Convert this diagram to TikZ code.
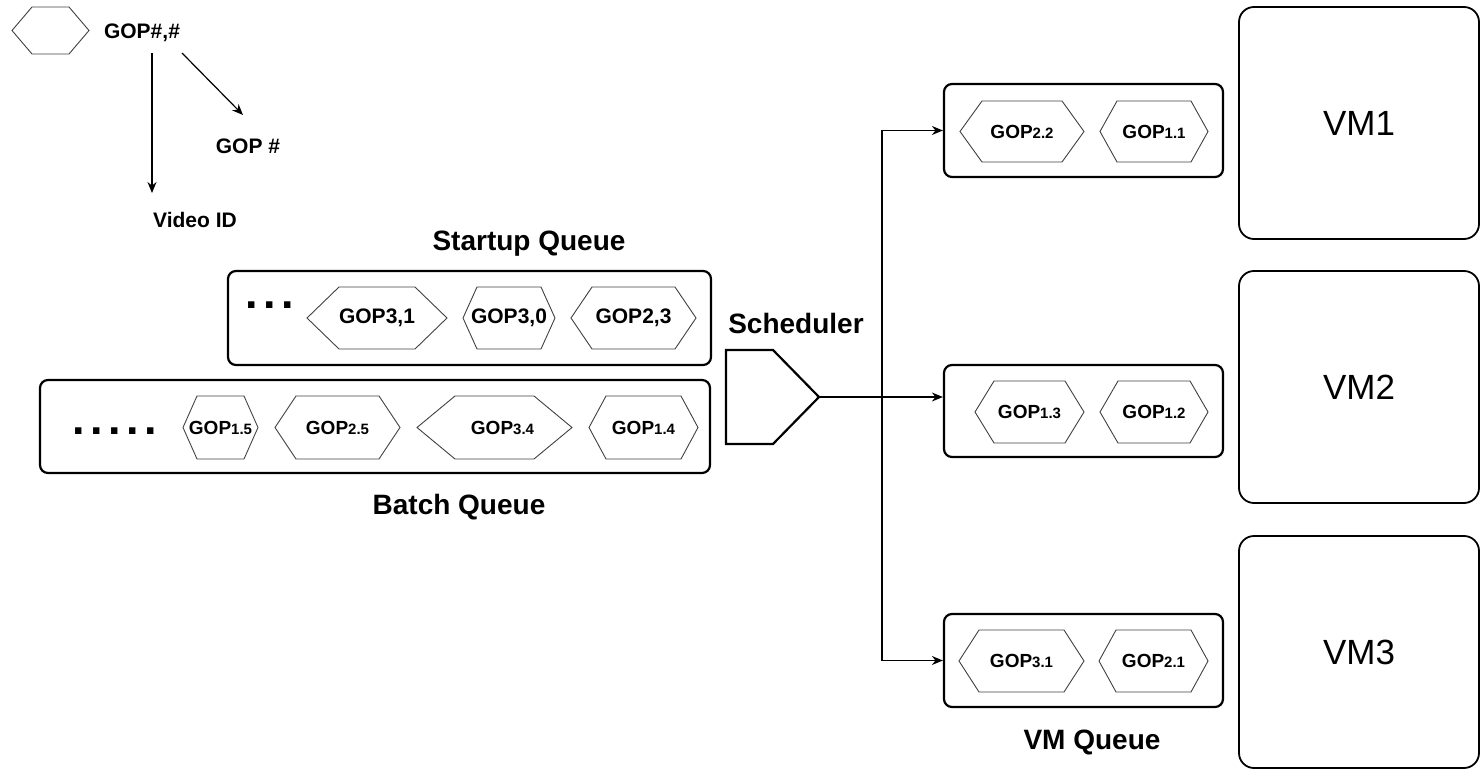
\documentclass[tikz,border=0pt]{standalone}
\usepackage{fontspec}
\setmainfont{Liberation Sans}
\usetikzlibrary{arrows.meta,calc}
\newcommand{\fsz}[1]{\fontsize{#1}{#1}\selectfont}
% hexagon: name, xl, xr, ytop, ybot, slant
\newcommand{\hexgop}[6]{%
  \draw[hexline] (#2,{(#4+#5)/2}) -- ({#2+#6},#4) -- ({#3-#6},#4) -- (#3,{(#4+#5)/2}) -- ({#3-#6},#5) -- ({#2+#6},#5) -- cycle;
  \coordinate (#1) at ({(#2+#3)/2},{(#4+#5)/2});}
\newcommand{\gp}[1]{GOP{\fsz{15}#1}}
\begin{document}
\begin{tikzpicture}[x=1pt,y=-1pt,
  qbox/.style={draw, line width=2.2pt, rounded corners=8pt, inner sep=0pt},
  vmbox/.style={draw, line width=1.8pt, rounded corners=15pt, inner sep=0pt, font=\fsz{35}},
  hexline/.style={draw=black!75, line width=0.9pt},
  gop/.style={font=\bfseries\fsz{21}, inner sep=0pt},
  gops/.style={font=\bfseries\fsz{19}, inner sep=0pt},
  lbl/.style={font=\bfseries\fsz{28}, inner sep=0pt},
  leg/.style={font=\bfseries\fsz{21}, inner sep=0pt},
  dots/.style={font=\bfseries\fsz{45}, inner sep=0pt},
  arr/.style={-{Stealth[length=11pt,width=9pt]}, line width=1.2pt},
  wire/.style={line width=1.2pt}]
\useasboundingbox (0,0) rectangle (1481,770);

% ---------- legend ----------
\hexgop{leghex}{12}{89}{7}{54}{20}
\node[leg] (legtxt) at (142,33) {GOP\#,\#};
\node[leg] (gopnum) at (248,146) {GOP \#};
\node[leg] (vid) at (195,220) {Video ID};
\coordinate (v1s) at (152,53);
\coordinate (v1e) at (152,193);
\coordinate (v2s) at (182,53);
\coordinate (v2e) at (243,115);
\draw[arr] (v1s) -- (v1e);
\draw[arr] (v2s) -- (v2e);

% ---------- startup queue ----------
\node[lbl] (sqlbl) at (529,244) {Startup Queue};
\node[qbox, minimum width=483pt, minimum height=94pt] (sq) at (469.5,318) {};
\node[dots] (sqdots) at (270,305) {.\hspace{5.5pt}.\hspace{5.5pt}.};
\hexgop{h31}{307}{447}{287}{349}{32}
\node[gop] (t31) at (h31) {GOP3,1};
\hexgop{h30}{463}{555}{287}{349}{14}
\node[gop] (t30) at (h30) {GOP3,0};
\hexgop{h23}{571}{696}{287}{349}{21}
\node[gop] (t23) at (h23) {GOP2,3};

% ---------- batch queue ----------
\node[qbox, minimum width=670pt, minimum height=93pt] (bq) at (375,426.5) {};
\node[dots] (bqdots) at (115,431) {.\hspace{5.5pt}.\hspace{5.5pt}.\hspace{5.5pt}.\hspace{5.5pt}.};
\hexgop{h15}{183}{258}{396}{459}{14}
\node[gops] (t15) at (h15) {\gp{1.5}};
\hexgop{h25}{275}{400}{396}{459}{21}
\node[gops] (t25) at (h25) {\gp{2.5}};
\hexgop{h34}{417}{572}{396}{459}{38}
\node[gops] (t34) at ([xshift=8pt]h34) {\gp{3.4}};
\hexgop{h14}{589}{698}{396}{459}{17}
\node[gops] (t14) at (h14) {\gp{1.4}};
\node[lbl] (bqlbl) at (459,507) {Batch Queue};

% ---------- scheduler ----------
\node[lbl] (schlbl) at (796,323) {Scheduler};
\draw[line width=2.2pt, line join=miter] (726,350) -- (773,350) -- (819,397) -- (773,444) -- (726,444) -- cycle;
\coordinate (schtip) at (819,397);
\coordinate (j) at (882,397);

% ---------- VM queues ----------
\node[qbox, minimum width=279pt, minimum height=93pt] (vq1) at (1083.5,130.5) {};
\node[qbox, minimum width=279pt, minimum height=92pt] (vq2) at (1083.5,411) {};
\node[qbox, minimum width=279pt, minimum height=93pt] (vq3) at (1083.5,660.5) {};
\node[lbl] (vqlbl) at (1092,742) {VM Queue};

\hexgop{h22}{960}{1084}{101}{162}{22}
\node[gops] (t22) at (h22) {\gp{2.2}};
\hexgop{h11}{1100}{1208}{101}{162}{17}
\node[gops] (t11) at (h11) {\gp{1.1}};
\hexgop{h13}{975}{1084}{381}{443}{19}
\node[gops] (t13) at (h13) {\gp{1.3}};
\hexgop{h12}{1100}{1208}{381}{443}{18}
\node[gops] (t12) at (h12) {\gp{1.2}};
\hexgop{h31b}{959}{1084}{630}{692}{20}
\node[gops] (t31b) at (h31b) {\gp{3.1}};
\hexgop{h21}{1099}{1208}{630}{692}{17}
\node[gops] (t21) at (h21) {\gp{2.1}};

% ---------- connectors ----------
\draw[wire, line width=1.8pt] (schtip) -- (j);
\draw[arr] (j) |- (vq1.west);
\draw[arr] (j) -- (j -| vq2.west);
\draw[arr] (j) |- (vq3.west);

% ---------- VMs ----------
\node[vmbox, minimum width=240pt, minimum height=232pt] (vm1) at (1359,123) {VM1};
\node[vmbox, minimum width=240pt, minimum height=232pt] (vm2) at (1359,387) {VM2};
\node[vmbox, minimum width=240pt, minimum height=232pt] (vm3) at (1359,652) {VM3};
\end{tikzpicture}
\end{document}
